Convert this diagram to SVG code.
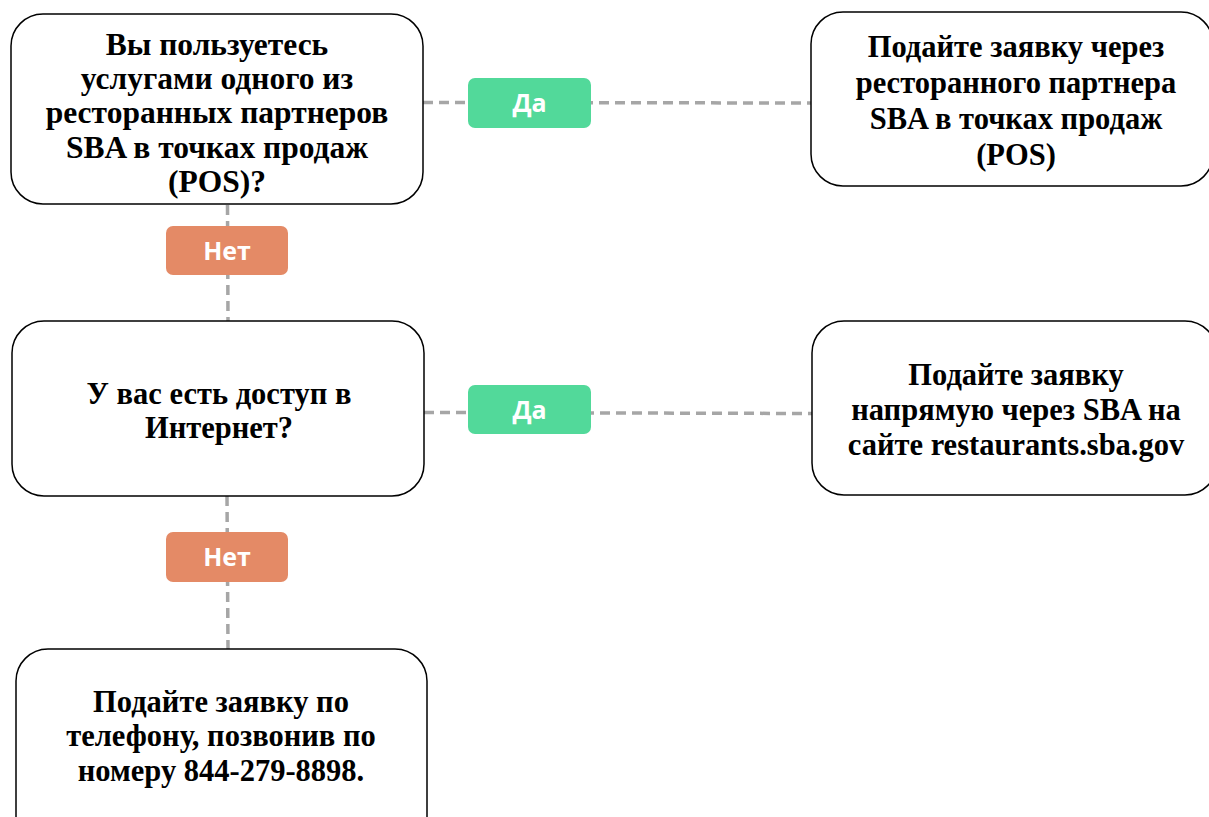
<svg xmlns="http://www.w3.org/2000/svg" width="1209" height="817" viewBox="0 0 1209 817">
<style>
.box{fill:#fff;stroke:#000;stroke-width:1.5}
.t{font-family:"Liberation Serif","Times New Roman",serif;font-weight:bold;font-size:30.5px;fill:#000;text-anchor:middle}
.t1{font-size:31.5px}
.conn{stroke:#A6A6A6;stroke-width:3.5;stroke-dasharray:10 6;fill:none}
.yes{fill:#52D99A}
.no{fill:#E48A66}
.lt{font-family:"Open Sans","Noto Sans",sans-serif;font-weight:bold;font-size:25px;fill:#fff;text-anchor:middle}
</style>
<rect width="1209" height="817" fill="#fff"/>
<g id="connectors">
<line class="conn" x1="423" y1="102.5" x2="811" y2="103"/>
<line class="conn" x1="424" y1="412.5" x2="812" y2="413.5"/>
<line class="conn" x1="227.5" y1="205" x2="228" y2="321"/>
<line class="conn" x1="227" y1="496" x2="228" y2="649"/>
</g>
<g id="q1">
<rect class="box" x="11" y="14" width="412" height="190" rx="32"/>
<text class="t t1"><tspan x="217" y="55">Вы пользуетесь</tspan><tspan x="217" y="89">услугами одного из</tspan><tspan x="217" y="123">ресторанных партнеров</tspan><tspan x="217" y="158">SBA в точках продаж</tspan><tspan x="217" y="192">(POS)?</tspan></text>
</g>
<g id="a1">
<rect class="box" x="811" y="12" width="402" height="174" rx="32"/>
<text class="t"><tspan x="1016" y="57">Подайте заявку через</tspan><tspan x="1016" y="93">ресторанного партнера</tspan><tspan x="1016" y="129">SBA в точках продаж</tspan><tspan x="1016" y="165">(POS)</tspan></text>
</g>
<g id="q2">
<rect class="box" x="12" y="321" width="412" height="175" rx="32"/>
<text class="t"><tspan x="219" y="404">У вас есть доступ в</tspan><tspan x="219" y="438">Интернет?</tspan></text>
</g>
<g id="a2">
<rect class="box" x="812" y="321" width="405" height="174" rx="32"/>
<text class="t"><tspan x="1016" y="385">Подайте заявку</tspan><tspan x="1016" y="420">напрямую через SBA на</tspan><tspan x="1016" y="455">сайте restaurants.sba.gov</tspan></text>
</g>
<g id="a3">
<rect class="box" x="16" y="649" width="411" height="200" rx="32"/>
<text class="t"><tspan x="221" y="712">Подайте заявку по</tspan><tspan x="221" y="746">телефону, позвонив по</tspan><tspan x="221" y="781">номеру 844-279-8898.</tspan></text>
</g>
<g id="label-yes-1">
<rect class="yes" x="468" y="78" width="123" height="50" rx="7"/>
<text class="lt" x="529.5" y="112">Да</text>
</g>
<g id="label-no-1">
<rect class="no" x="166" y="226" width="122" height="49" rx="7"/>
<text class="lt" x="227" y="259.5">Нет</text>
</g>
<g id="label-yes-2">
<rect class="yes" x="468" y="385" width="123" height="49" rx="7"/>
<text class="lt" x="529.5" y="418.5">Да</text>
</g>
<g id="label-no-2">
<rect class="no" x="166" y="532" width="122" height="50" rx="7"/>
<text class="lt" x="227" y="566">Нет</text>
</g>
</svg>
